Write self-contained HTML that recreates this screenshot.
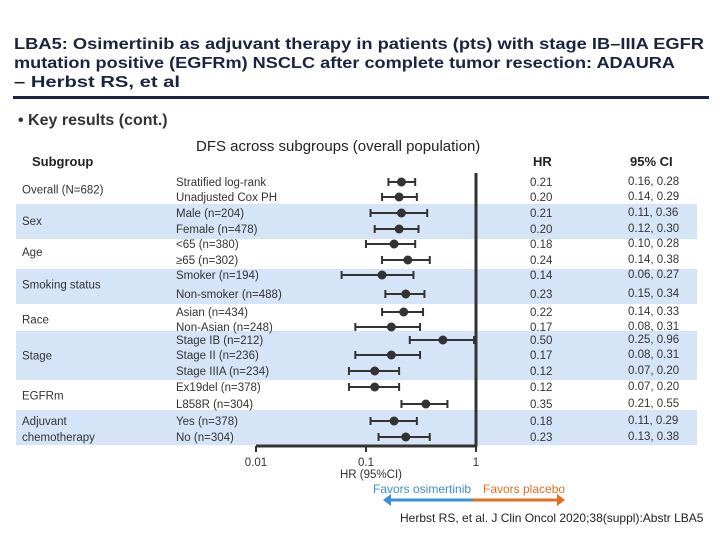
<!DOCTYPE html>
<html><head><meta charset="utf-8"><style>
html,body{margin:0;padding:0;background:#fff;}
svg{display:block;font-family:"Liberation Sans",Arial,sans-serif;}
</style></head><body>
<svg id="chart" width="720" height="540" viewBox="0 0 720 540">
<g font-weight="bold" font-size="16" fill="#1a2440">
<text x="14" y="49" textLength="690" lengthAdjust="spacingAndGlyphs">LBA5: Osimertinib as adjuvant therapy in patients (pts) with stage IB–IIIA EGFR</text>
<text x="14" y="68" textLength="661" lengthAdjust="spacingAndGlyphs">mutation positive (EGFRm) NSCLC after complete tumor resection: ADAURA</text>
<text x="14" y="87" textLength="166" lengthAdjust="spacingAndGlyphs">– Herbst RS, et al</text>
</g>
<rect x="13" y="96" width="696" height="3" fill="#1a2440"/>
<text x="18" y="125" font-size="16" font-weight="bold" fill="#333">•  Key results (cont.)</text>
<text x="196" y="151" font-size="15" fill="#222">DFS across subgroups (overall population)</text>
<text x="32" y="166" font-size="13" font-weight="bold" fill="#222">Subgroup</text>
<text x="533" y="166" font-size="13" font-weight="bold" fill="#222">HR</text>
<text x="630" y="166" font-size="13" font-weight="bold" fill="#222">95% CI</text>
<g id="bands"></g>
<g id="groups" font-size="11.5" fill="#333"></g>
<g id="rows" font-size="11.5" fill="#333"></g>
<g id="marks"></g>
<g id="axis"></g>
<text x="340" y="478" font-size="11.5" fill="#333">HR (95%CI)</text>
<text x="373" y="493" font-size="12" fill="#3a8fd6">Favors osimertinib</text>
<text x="483" y="493" font-size="12" fill="#e07020">Favors placebo</text>
<g>
<line x1="388" y1="500" x2="473" y2="500" stroke="#3a8fd6" stroke-width="3"/>
<line x1="473" y1="500" x2="560" y2="500" stroke="#e07020" stroke-width="3"/>
<polygon points="383,500 391,494 391,506" fill="#3a8fd6"/>
<polygon points="565,500 557,494 557,506" fill="#e07020"/>
</g>
<text x="400" y="522" font-size="12" fill="#222">Herbst RS, et al. J Clin Oncol 2020;38(suppl):Abstr LBA5</text>
</svg>
<script>
const labels=["Stratified log-rank","Unadjusted Cox PH","Male (n=204)","Female (n=478)","<65 (n=380)","≥65 (n=302)","Smoker (n=194)","Non-smoker (n=488)","Asian (n=434)","Non-Asian (n=248)","Stage IB (n=212)","Stage II (n=236)","Stage IIIA (n=234)","Ex19del (n=378)","L858R (n=304)","Yes (n=378)","No (n=304)"];
const hr=[0.21,0.20,0.21,0.20,0.18,0.24,0.14,0.23,0.22,0.17,0.50,0.17,0.12,0.12,0.35,0.18,0.23];
const lo=[0.16,0.14,0.11,0.12,0.10,0.14,0.06,0.15,0.14,0.08,0.25,0.08,0.07,0.07,0.21,0.11,0.13];
const hi=[0.28,0.29,0.36,0.30,0.28,0.38,0.27,0.34,0.33,0.31,0.96,0.31,0.20,0.20,0.55,0.29,0.38];
const groups=["Overall (N=682)","Sex","Age","Smoking status","Race","Stage","EGFRm","Adjuvant chemotherapy"];
const groupSizes=[2,2,2,2,2,3,2,2];
const ticks=[0.01,0.1,1];
const NS="http://www.w3.org/2000/svg";
const X0=256,DEC=110;
function xs(v){return X0+DEC*Math.log10(v/0.01);}
const rowY=[182,197,213,229,244,260,275,294,312,327,340,355,371,387,404,421,437];
function mk(tag,at,parent){const e=document.createElementNS(NS,tag);for(const k in at)e.setAttribute(k,at[k]);parent.appendChild(e);return e;}
const bands=document.getElementById('bands'),gG=document.getElementById('groups'),rG=document.getElementById('rows'),mG=document.getElementById('marks'),aG=document.getElementById('axis');
const bandTop=[173,204,239,269,304,331,380,410],bandBot=[204,239,269,304,331,380,410,445];
let idx=0;
groups.forEach((g,i)=>{
  if(i%2===1){const b=mk('rect',{x:16,y:bandTop[i],width:681,height:bandBot[i]-bandTop[i],fill:'#d6e4f8'},bands);
  
  }
  const cy=(rowY[idx]+rowY[idx+groupSizes[i]-1])/2;
  const t=mk('text',{x:22,y:cy+4},gG);
  
  
  if(g==="Adjuvant chemotherapy"){t.setAttribute('y',cy-4);t.textContent="Adjuvant";const t2=mk('text',{x:22,y:cy+12},gG);t2.textContent="chemotherapy";
  
  }
  else t.textContent=g;
  idx+=groupSizes[i];
});
labels.forEach((l,i)=>{
  const y=rowY[i];
  const t=mk('text',{x:176,y:y+4},rG);t.textContent=l;
  
  
  const h=mk('text',{x:530,y:y+4},rG);h.textContent=hr[i].toFixed(2);
  
  
  const c=mk('text',{x:628,y:y+3},rG);c.textContent=lo[i].toFixed(2)+", "+hi[i].toFixed(2);
  
  
  const g=mk('g',{stroke:'#333','stroke-width':2},mG);
  
  
  mk('line',{x1:xs(lo[i]),x2:xs(hi[i]),y1:y,y2:y},g);
  mk('line',{x1:xs(lo[i]),x2:xs(lo[i]),y1:y-4,y2:y+4},g);
  mk('line',{x1:xs(hi[i]),x2:xs(hi[i]),y1:y-4,y2:y+4},g);
  const d=mk('circle',{cx:xs(hr[i]),cy:y,r:4.5,fill:'#333'},mG);
  
  
});
const ax=mk('line',{x1:xs(0.01),x2:xs(1),y1:446,y2:446,stroke:'#333','stroke-width':3},aG);


const ref=mk('line',{x1:xs(1),x2:xs(1),y1:173,y2:447,stroke:'#333','stroke-width':3},aG);


ticks.forEach(v=>{
  mk('line',{x1:xs(v),x2:xs(v),y1:446,y2:452,stroke:'#333','stroke-width':2},aG);
  const t=mk('text',{x:xs(v),y:466,'text-anchor':'middle','font-size':11.5,fill:'#333'},aG);t.textContent=String(v);
  
  
});
</script>
</body></html>
